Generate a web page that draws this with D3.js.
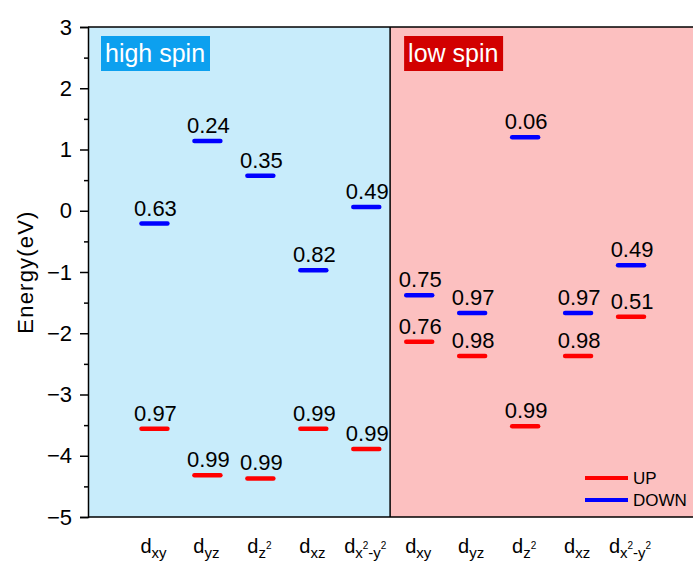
<!DOCTYPE html>
<html lang="en">
<head>
    <meta charset="UTF-8">
    <title>Energy levels - high spin / low spin</title>
    <script src="https://d3js.org/d3.v7.min.js"></script>
    <style>
        body { margin: 0; background: #fff; }
        svg { display: block; font-family: Arial, "Liberation Sans", sans-serif; }
    </style>
</head>
<body>
    <svg id="chart" width="693" height="561"></svg>

    <script>
        // orbital labels, one per column (5 high spin + 5 low spin)
        const orbitals = ["xy", "yz", "z^2", "xz", "x^2-y^2", "xy", "yz", "z^2", "xz", "x^2-y^2"];

        // spin-up levels (eV) and their occupations
        const upEnergy = [-3.56, -4.32, -4.37, -3.56, -3.89, -2.14, -2.37, -3.52, -2.37, -1.73];
        const upOcc = ["0.97", "0.99", "0.99", "0.99", "0.99", "0.76", "0.98", "0.99", "0.98", "0.51"];

        // spin-down levels (eV) and their occupations
        const downEnergy = [-0.21, 1.14, 0.57, -0.97, 0.06, -1.38, -1.67, 1.20, -1.67, -0.89];
        const downOcc = ["0.63", "0.24", "0.35", "0.82", "0.49", "0.75", "0.97", "0.06", "0.97", "0.49"];

        const yTicks = [3, 2, 1, 0, -1, -2, -3, -4, -5];
        const regions = [
            { name: "high spin", from: -1.255, to: 4.45, fill: "#c8ecfb", box: "#0ca0ef" },
            { name: "low spin", from: 4.45, to: 10.3, fill: "#fcc0c0", box: "#d20000" }
        ];

        const svg = d3.select("#chart");
        const plotL = 88, plotT = 27, plotB = 517;

        const x = d3.scaleLinear().domain([-1.255, 10.17]).range([plotL, 693]);
        const y = d3.scaleLinear().domain([-5, 3]).range([plotB, plotT]);

        // shaded regions
        svg.selectAll(".region")
            .data(regions)
            .enter().append("rect")
            .attr("x", d => x(d.from))
            .attr("y", plotT)
            .attr("width", d => x(d.to) - x(d.from))
            .attr("height", plotB - plotT)
            .attr("fill", d => d.fill);

        // divider between the two regions
        svg.append("line")
            .attr("x1", x(regions[1].from)).attr("x2", x(regions[1].from))
            .attr("y1", plotT).attr("y2", plotB)
            .attr("stroke", "#000").attr("stroke-width", 1.5);

        // region tags
        const tags = svg.selectAll(".tag")
            .data(regions)
            .enter().append("g")
            .attr("transform", d => `translate(${x(d.from) + (d.from < 0 ? 13 : 14)},${plotT + 9})`);
        tags.append("rect")
            .attr("width", d => d.name === "high spin" ? 109 : 99)
            .attr("height", 35)
            .attr("fill", d => d.box);
        tags.append("text")
            .attr("x", 4).attr("y", 26)
            .attr("fill", "#fff")
            .style("font-size", "25px")
            .text(d => d.name);

        // frame: top and bottom lines
        svg.append("line")
            .attr("x1", plotL).attr("x2", 693).attr("y1", plotT).attr("y2", plotT)
            .attr("stroke", "#000").attr("stroke-width", 1.5);
        svg.append("line")
            .attr("x1", plotL).attr("x2", 693).attr("y1", plotB).attr("y2", plotB)
            .attr("stroke", "#000").attr("stroke-width", 1.5);

        // y axis, major ticks
        const yAxis = svg.append("g")
            .attr("transform", `translate(${plotL},0)`)
            .call(d3.axisLeft(y).tickValues(yTicks).tickSize(8).tickPadding(8)
                .tickFormat(d => d < 0 ? "\u2212" + Math.abs(d) : d));
        yAxis.select(".domain").attr("stroke-width", 1.5);
        yAxis.selectAll(".tick line").attr("stroke-width", 1.5);
        yAxis.selectAll("text").style("font-size", "22px").attr("fill", "#000");

        // minor ticks
        svg.append("g")
            .attr("transform", `translate(${plotL},0)`)
            .call(d3.axisLeft(y).tickValues(d3.range(-4.5, 3, 1)).tickSize(4).tickFormat(""))
            .call(g => g.select(".domain").remove())
            .selectAll(".tick line").attr("stroke-width", 1.5);

        svg.append("text")
            .attr("transform", `translate(33,${(plotT + plotB) / 2}) rotate(-90)`)
            .attr("text-anchor", "middle")
            .style("font-size", "22px")
            .style("letter-spacing", "1.2px")
            .text("Energy(eV)");

        // x tick labels: d with subscripts (^ marks a superscript 2)
        // relative dy only, so the whole label stays one text chunk for centring
        const xLab = svg.selectAll(".xlab")
            .data(orbitals)
            .enter().append("text")
            .attr("x", (d, i) => x(i) - 1)
            .attr("y", 553)
            .attr("text-anchor", "middle");
        xLab.each(function (d) {
            const t = d3.select(this);
            t.append("tspan").style("font-size", "20px").text("d");
            let cur = 0, sup = false;
            for (const ch of d) {
                if (ch === "^") { sup = true; continue; }
                const target = sup ? -4 : 5;
                t.append("tspan")
                    .attr("dy", target - cur)
                    .style("font-size", sup ? "10px" : "15px")
                    .text(ch);
                cur = target;
                sup = false;
            }
        });

        // energy levels
        const half = 0.245;
        function drawLevels(energy, occ, color) {
            svg.append("g").selectAll("line")
                .data(energy)
                .enter().append("line")
                .attr("x1", (d, i) => x(i - half))
                .attr("x2", (d, i) => x(i + half))
                .attr("y1", d => y(d)).attr("y2", d => y(d))
                .attr("stroke", color)
                .attr("stroke-width", 4.5)
                .attr("stroke-linecap", "round");

            svg.append("g").selectAll("text")
                .data(energy)
                .enter().append("text")
                .attr("x", (d, i) => x(i) + 1)
                .attr("y", d => y(d) - 8)
                .attr("text-anchor", "middle")
                .style("font-size", "22px")
                .text((d, i) => occ[i]);
        }
        drawLevels(upEnergy, upOcc, "#ff0000");
        drawLevels(downEnergy, downOcc, "#0000ff");

        // legend
        const legend = svg.append("g").attr("transform", "translate(585,478)");
        [["UP", "#ff0000"], ["DOWN", "#0000ff"]].forEach(([name, color], i) => {
            legend.append("line")
                .attr("x1", 0).attr("x2", 43)
                .attr("y1", i * 22).attr("y2", i * 22)
                .attr("stroke", color).attr("stroke-width", 4);
            legend.append("text")
                .attr("x", 48).attr("y", i * 22 + 6)
                .style("font-size", "17px")
                .text(name);
        });
    </script>
</body>
</html>
